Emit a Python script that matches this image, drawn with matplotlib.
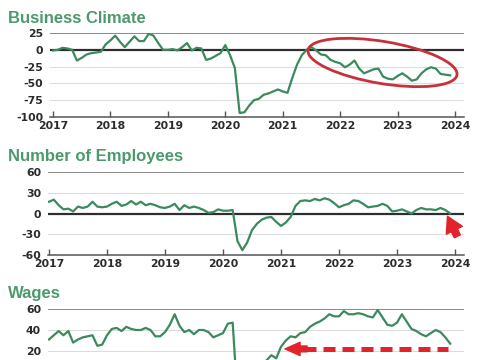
import numpy as np
import matplotlib
matplotlib.use("Agg")
import matplotlib.pyplot as plt
from matplotlib.patches import Ellipse
from matplotlib import font_manager

plt.rcParams['axes.unicode_minus'] = False

# monthly values, Jan 2017 .. Dec 2023
business_climate = [
    -1, 0, 3, 2, 0, -16, -12, -7, -5, -4, -3, 8,
    14, 21, 12, 4, 12, 20, 13, 13, 24, 21, 10, 0,
    0, 1, -1, 4, 10, -1, 3, 2, -15, -13, -9, -5,
    7, -8, -27, -94, -93, -83, -75, -73, -67, -65, -62, -59,
    -62, -64, -42, -22, -8, 0, 4, -1, -7, -8, -15, -18,
    -20, -26, -22, -16, -28, -35, -32, -29, -28, -40, -43, -44,
    -39, -35, -40, -46, -44, -35, -29, -26, -28, -36, -37, -38,
]
employees = [
    17, 20, 12, 6, 7, 3, 10, 8, 10, 17, 10, 9,
    10, 14, 17, 11, 13, 18, 13, 17, 12, 14, 12, 9,
    8, 10, 14, 5, 12, 8, 10, 8, 5, 1, 2, 6,
    4, 4, 5, -40, -53, -42, -24, -15, -9, -6, -5, -12,
    -18, -13, -5, 11, 18, 19, 18, 21, 19, 22, 20, 15,
    9, 12, 14, 19, 18, 14, 9, 10, 11, 14, 11, 3,
    4, 6, 3, 0, 5, 8, 6, 6, 5, 8, 5, 0,
]
wages = [
    31, 35, 39, 35, 39, 28, 31, 33, 34, 35, 25, 26,
    35, 41, 42, 39, 43, 41, 40, 40, 42, 40, 34, 34,
    38, 45, 55, 44, 38, 40, 36, 40, 40, 38, 33, 35,
    37, 46, 47, -25, -35, -25, -10, 0, 5, 11, 16, 13,
    24, 30, 34, 33, 37, 38, 43, 46, 48, 51, 55, 53,
    53, 58, 55, 55, 56, 55, 53, 52, 59, 52, 45, 44,
    47, 55, 48, 41, 39, 36, 34, 37, 40, 38, 33, 27,
]
years = [2017, 2018, 2019, 2020, 2021, 2022, 2023, 2024]

titles = ["Business Climate", "Number of Employees", "Wages"]
yticks = [[25, 0, -25, -50, -75, -100], [60, 30, 0, -30, -60], [60, 40, 20]]
gridlines = [[25, 0, -25, -50, -75], [60, 30, 0, -30], [60, 40, 20, 0, -20]]
ylims = [(-100, 25), (-60, 60), (-40, 60)]

GREEN = "#3b8a5e"
TITLE_GREEN = "#4c9a6c"
RED = "#e2232b"

# condensed title font if available
installed = {f.name for f in font_manager.fontManager.ttflist}
if 'Liberation Sans Narrow' in installed:
    title_font, title_size = 'Liberation Sans Narrow', 14
else:
    title_font, title_size = 'Liberation Sans', 12

x = 2017 + np.arange(len(business_climate)) / 12.0

fig = plt.figure(figsize=(4.85, 3.6), dpi=100)

# axes rectangles (fig fractions) and x-limits per panel
rects = [
    [50 / 485, 1 - 117 / 360, 414 / 485, 84 / 360],
    [48 / 485, 1 - 255 / 360, 416 / 485, 83 / 360],
    [48 / 485, 1 - 414 / 360, 416 / 485, 105 / 360],
]
xlims = [(2016.948, 2024.157), (2016.983, 2024.155), (2016.983, 2024.155)]
title_y = [23, 161, 298]

series = [business_climate, employees, wages]
axes = []
for k in range(3):
    ax = fig.add_axes(rects[k])
    axes.append(ax)
    ax.plot(x, series[k], color=GREEN, lw=1.6, zorder=3, solid_joinstyle='round')
    ax.set_xlim(*xlims[k])
    ax.set_ylim(*ylims[k])
    ax.set_yticks(yticks[k])
    ax.set_yticklabels([str(v) for v in yticks[k]])
    ax.set_xticks(years)
    ax.set_xticklabels([str(y) for y in years])
    for v in gridlines[k]:
        if v == 0:
            ax.axhline(0, color="#2e2e2e", lw=1.6, zorder=2)
        elif v == ylims[k][1]:
            ax.axhline(v, color="#6a6a6a", lw=1.1, zorder=2)
        else:
            ax.axhline(v, color="#dcdcdc", lw=0.8, zorder=1)
    for s in ["left", "right", "top"]:
        ax.spines[s].set_visible(False)
    ax.spines["bottom"].set_color("#555555")
    ax.spines["bottom"].set_linewidth(1.1)
    ax.tick_params(axis='y', length=0, pad=5, labelsize=7.8, labelcolor="#2b2b2b")
    ax.tick_params(axis='x', direction='in', length=4.5, width=1, color="#555555",
                   pad=3, labelsize=7.8, labelcolor="#2b2b2b")
    for lab in ax.get_xticklabels() + ax.get_yticklabels():
        lab.set_fontweight('bold')
    ax.patch.set_visible(False)
    fig.text(8 / 485, 1 - title_y[k] / 360, titles[k], color=TITLE_GREEN,
             fontsize=title_size, fontweight='bold', va='baseline',
             family=[title_font, 'DejaVu Sans'])

axes[2].tick_params(axis='x', labelbottom=False)

# red ellipse around the recent business climate decline
ell = Ellipse((3.825, 2.975), 1.51, 0.42, angle=-9.5, transform=fig.dpi_scale_trans,
              fill=False, edgecolor="#c8313b", lw=2.0, clip_on=False, zorder=5)
fig.add_artist(ell)

# red pointer arrow in employees panel
axes[1].annotate("", xy=(2023.87, -4), xytext=(2024.04, -33),
                 arrowprops=dict(arrowstyle="simple,head_length=0.7,head_width=0.8,tail_width=0.3",
                                 color=RED, mutation_scale=16, shrinkA=0, shrinkB=0),
                 annotation_clip=False, zorder=6)

# dashed red arrow in wages panel
axes[2].plot([2021.4, 2023.88], [22, 22], color=RED, lw=3.6, dashes=(2.4, 1.4),
             solid_capstyle='butt', dash_capstyle='butt', zorder=6)
axes[2].annotate("", xy=(2021.07, 22), xytext=(2021.45, 22),
                 arrowprops=dict(arrowstyle="simple,head_length=0.9,head_width=0.8,tail_width=0.35",
                                 color=RED, mutation_scale=12, shrinkA=0, shrinkB=0),
                 zorder=6)

fig.savefig("out.png", dpi=100)
